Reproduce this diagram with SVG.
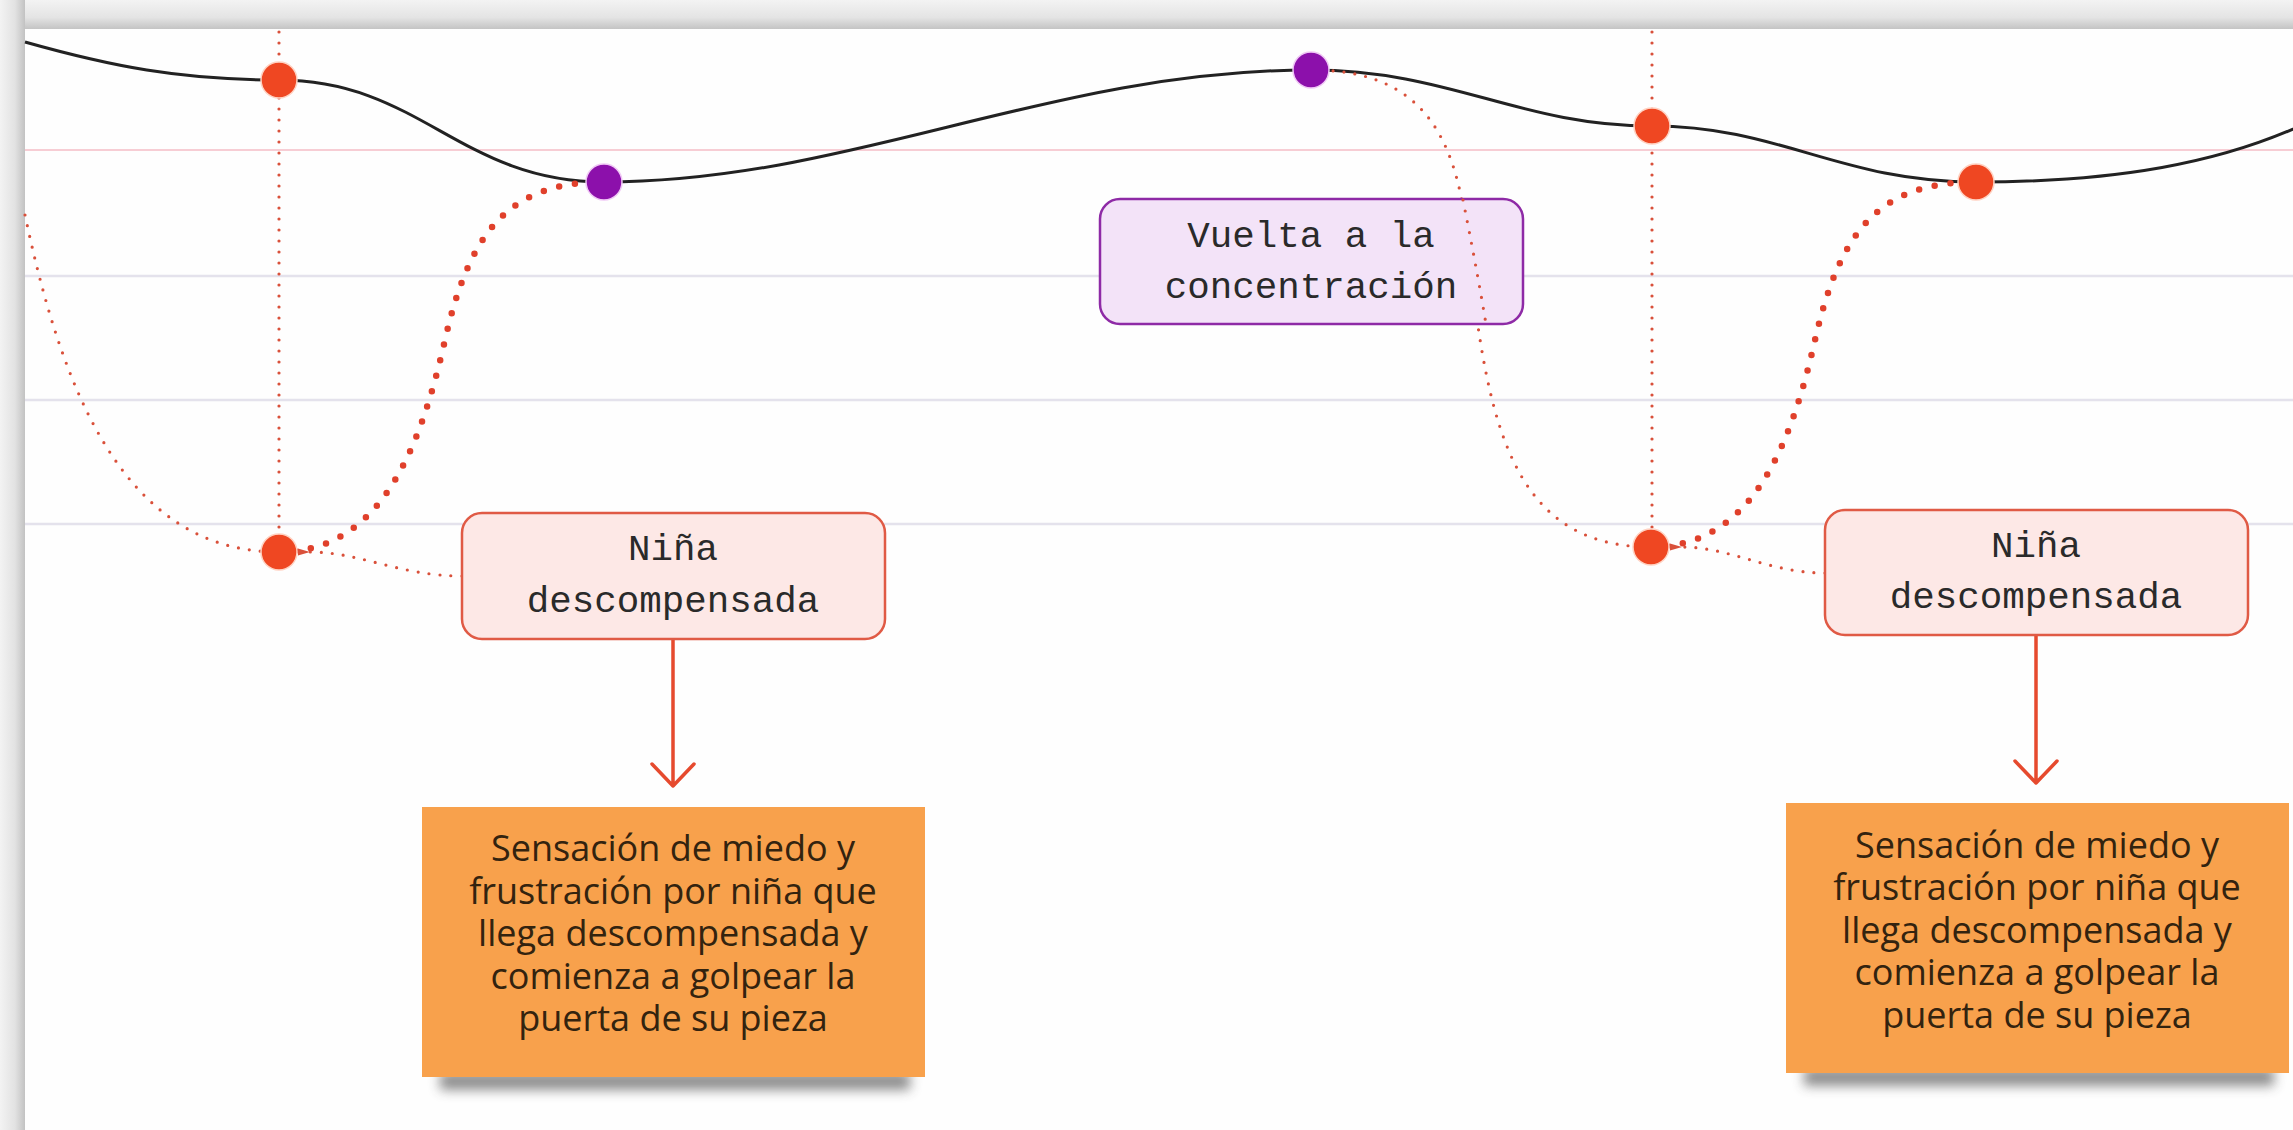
<svg xmlns="http://www.w3.org/2000/svg" width="2293" height="1130" viewBox="0 0 2293 1130">
<defs>
<style>
.grid-pink{stroke:#f7cdd4;stroke-width:2;fill:none}
.grid-gray{stroke:#e4e2ec;stroke-width:2.5;fill:none}
.curve{stroke:#222;stroke-width:3;fill:none}
.thin{stroke:#d9503a;stroke-width:3.2;fill:none;stroke-dasharray:0 11;stroke-linecap:round}
.thick{stroke:#e0402b;stroke-width:6.5;fill:none;stroke-dasharray:0 16;stroke-linecap:round}
.arrow{stroke:#e64a2e;stroke-width:3.5;fill:none;stroke-linecap:round;stroke-linejoin:round}
.dot-o{fill:#ef4722;stroke:#ffd2c2;stroke-width:1.5}
.dot-p{fill:#8c10ab;stroke:#f0c8f5;stroke-width:1.5}
.box-red{fill:#fde8e6;stroke:#e05a45;stroke-width:2.5}
.box-purple{fill:#f3e3f8;stroke:#8e2aa6;stroke-width:2.5}
.mono{font-family:"Liberation Mono","DejaVu Sans Mono",monospace;font-size:37.5px;fill:#2a2a2a;text-anchor:middle}
.note{fill:#f8a14c}
.notetxt{font-family:"Open Sans","Noto Sans",sans-serif;font-size:36px;fill:#33230f;text-anchor:middle}
</style>
<linearGradient id="gTop" x1="0" y1="0" x2="0" y2="1">
<stop offset="0" stop-color="#f3f3f3"/><stop offset="0.6" stop-color="#e4e4e4"/><stop offset="1" stop-color="#c4c4c4"/>
</linearGradient>
<linearGradient id="gLeft" x1="0" y1="0" x2="1" y2="0">
<stop offset="0" stop-color="#f3f3f3"/><stop offset="0.6" stop-color="#e2e2e2"/><stop offset="1" stop-color="#c2c2c2"/>
</linearGradient>
<filter id="blur" x="-20%" y="-100%" width="140%" height="300%"><feGaussianBlur stdDeviation="6"/></filter>
<marker id="tip" viewBox="0 0 12 8" refX="0" refY="4" markerWidth="12" markerHeight="8" markerUnits="userSpaceOnUse" orient="auto">
<path d="M0,4 L12,0.5 L12,7.5 Z" fill="#d9503a"/>
</marker>
</defs>

<g id="background">
<rect x="0" y="0" width="2293" height="1130" fill="#ececec"/>
<rect x="0" y="0" width="2293" height="29" fill="url(#gTop)"/>
<rect x="0" y="0" width="25" height="1130" fill="url(#gLeft)"/>
<rect x="25" y="29" width="2268" height="1101" fill="#fefefe"/>
</g>

<g id="grid">
<line class="grid-pink" x1="25" y1="150" x2="2293" y2="150"/>
<line class="grid-gray" x1="25" y1="276" x2="2293" y2="276"/>
<line class="grid-gray" x1="25" y1="400" x2="2293" y2="400"/>
<line class="grid-gray" x1="25" y1="524" x2="2293" y2="524"/>
</g>

<g id="connectors">
<path class="curve" d="M25,42 C110,66 180,80 279,80 C420,80 460,182 604,182 C850,182 1050,70 1311,70 C1450,70 1520,126 1652,126 C1780,126 1840,182 1976,182 C2120,182 2220,162 2300,126"/>
<line class="thin" x1="279" y1="32" x2="279" y2="552"/>
<line class="thin" x1="1652" y1="32" x2="1652" y2="547"/>
<path class="thin" d="M25,215 C60,380 120,552 279,552"/>
<path class="thin" d="M1311,70 C1400,70 1450,110 1465,220 C1485,400 1500,547 1651,547"/>
<path class="thick" d="M279,552 C380,552 420,450 445,340 C470,230 510,182 604,182"/>
<path class="thick" d="M1651,547 C1750,547 1790,450 1815,340 C1840,230 1880,182 1976,182"/>
<path class="thin" d="M462,576 C400,576 360,552 310,552" marker-end="url(#tip)"/>
<path class="thin" d="M1825,573 C1770,573 1730,547 1682,547" marker-end="url(#tip)"/>
<path class="arrow" d="M673,640 L673,786 M652,764 L673,786 L694,764"/>
<path class="arrow" d="M2036,636 L2036,783 M2015,761 L2036,783 L2057,761"/>
</g>

<g id="dot-o1"><circle class="dot-o" cx="279" cy="80" r="18"/></g>
<g id="dot-p1"><circle class="dot-p" cx="604" cy="182" r="18"/></g>
<g id="dot-p2"><circle class="dot-p" cx="1311" cy="70" r="18"/></g>
<g id="dot-o3"><circle class="dot-o" cx="1652" cy="126" r="18"/></g>
<g id="dot-o5"><circle class="dot-o" cx="1976" cy="182" r="18"/></g>
<g id="dot-o2"><circle class="dot-o" cx="279" cy="552" r="18"/></g>
<g id="dot-o4"><circle class="dot-o" cx="1651" cy="547" r="18"/></g>

<g id="box-vuelta">
<rect class="box-purple" x="1100" y="199" width="423" height="125" rx="20"/>
<text class="mono" x="1311" y="247">Vuelta a la</text>
<text class="mono" x="1311" y="298">concentración</text>
</g>
<g id="connector-overlay">
<path class="thin" d="M1463,200 C1475,260 1482,300 1486,324"/>
</g>

<g id="box-nina-1">
<rect class="box-red" x="462" y="513" width="423" height="126" rx="20"/>
<text class="mono" x="673" y="560">Niña</text>
<text class="mono" x="673" y="612">descompensada</text>
</g>

<g id="box-nina-2">
<rect class="box-red" x="1825" y="510" width="423" height="125" rx="20"/>
<text class="mono" x="2036" y="557">Niña</text>
<text class="mono" x="2036" y="608">descompensada</text>
</g>

<g id="note-1">
<rect x="440" y="1072" width="470" height="18" fill="#444" opacity="0.6" filter="url(#blur)"/>
<rect class="note" x="422" y="807" width="503" height="270"/>
<text class="notetxt" x="673" y="861">Sensación de miedo y</text>
<text class="notetxt" x="673" y="904">frustración por niña que</text>
<text class="notetxt" x="673" y="946">llega descompensada y</text>
<text class="notetxt" x="673" y="989">comienza a golpear la</text>
<text class="notetxt" x="673" y="1031">puerta de su pieza</text>
</g>

<g id="note-2">
<rect x="1804" y="1068" width="470" height="18" fill="#444" opacity="0.6" filter="url(#blur)"/>
<rect class="note" x="1786" y="803" width="503" height="270"/>
<text class="notetxt" x="2037" y="858">Sensación de miedo y</text>
<text class="notetxt" x="2037" y="900">frustración por niña que</text>
<text class="notetxt" x="2037" y="943">llega descompensada y</text>
<text class="notetxt" x="2037" y="985">comienza a golpear la</text>
<text class="notetxt" x="2037" y="1028">puerta de su pieza</text>
</g>
</svg>
